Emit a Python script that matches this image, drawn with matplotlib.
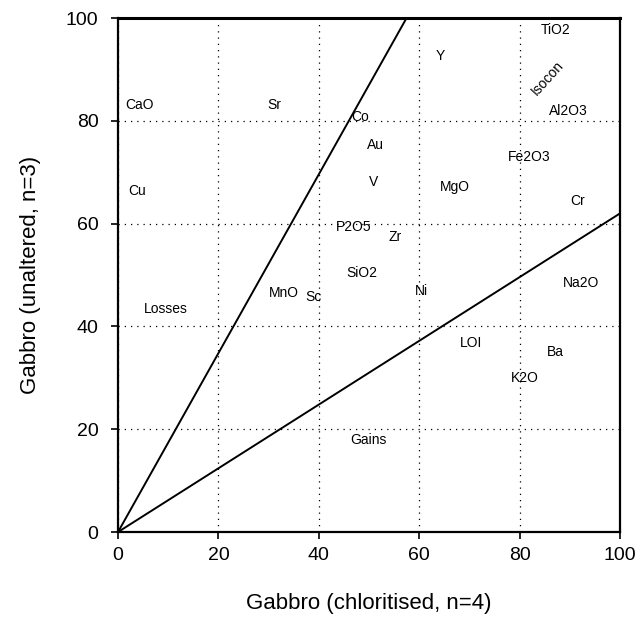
import matplotlib
matplotlib.use("Agg")
import matplotlib.pyplot as plt
import numpy as np

plt.rcParams['font.family'] = ['Liberation Sans', 'DejaVu Sans']

# Element labels and their positions (chloritised, unaltered)
elements = ["CaO", "Sr", "Co", "Au", "V", "Cu", "Y", "TiO2", "Al2O3", "Fe2O3",
            "MgO", "Cr", "P2O5", "Zr", "SiO2", "MnO", "Sc", "Ni", "Na2O",
            "LOI", "Ba", "K2O"]
x_chlor = [4.2, 31.2, 48.3, 51.3, 50.9, 3.8, 64.2, 87.1, 89.7, 81.9,
           67.2, 91.5, 46.9, 55.1, 48.5, 33.0, 39.0, 60.4, 92.2,
           70.4, 87.1, 81.1]
y_unalt = [83.0, 83.0, 80.7, 75.3, 68.1, 66.3, 92.6, 97.7, 81.9, 73.0,
           67.1, 64.4, 59.3, 57.4, 50.4, 46.5, 45.7, 46.9, 48.4,
           36.8, 35.0, 30.0]

# Reference lines through the origin (slopes)
line_slopes = [1.74, 0.62]

# Region annotations
region_text = ["Losses", "Gains", "Isocon"]
region_x = [9.5, 49.9, 85.5]
region_y = [43.4, 17.9, 88.3]
region_rot = [0, 0, 48]

ticks = [0, 20, 40, 60, 80, 100]

fig = plt.figure(figsize=(6.42, 6.23), dpi=100)
ax = fig.add_axes([0.1838, 0.146, 0.782, 0.825])

xs = np.array([0, 100.0])
for s in line_slopes:
    ax.plot(xs, s * xs, color='black', lw=1.4)

for name, x, y in zip(elements, x_chlor, y_unalt):
    ax.text(x, y, name, fontsize=10, ha='center', va='center')

for t, x, y, r in zip(region_text, region_x, region_y, region_rot):
    ax.text(x, y, t, fontsize=10, ha='center', va='center', rotation=r,
            rotation_mode='anchor')

ax.set_xlim(0, 100)
ax.set_ylim(0, 100)
ax.set_xticks(ticks)
ax.set_yticks(ticks)
ax.grid(True, color='black', linestyle=(0, (1, 4)), linewidth=0.9)
ax.tick_params(direction='out', length=5, width=1.2, labelsize=14)
ax.tick_params(axis='x', pad=6)
ax.tick_params(axis='y', pad=9)
for sp in ax.spines.values():
    sp.set_linewidth(1.6)
    sp.set_color('black')
ax.spines['top'].set_linewidth(2.2)

ax.set_xlabel("Gabbro (chloritised, n=4)", fontsize=16, labelpad=21)
ax.set_ylabel("Gabbro (unaltered, n=3)", fontsize=16, labelpad=18)

fig.savefig("out.png", dpi=100)
